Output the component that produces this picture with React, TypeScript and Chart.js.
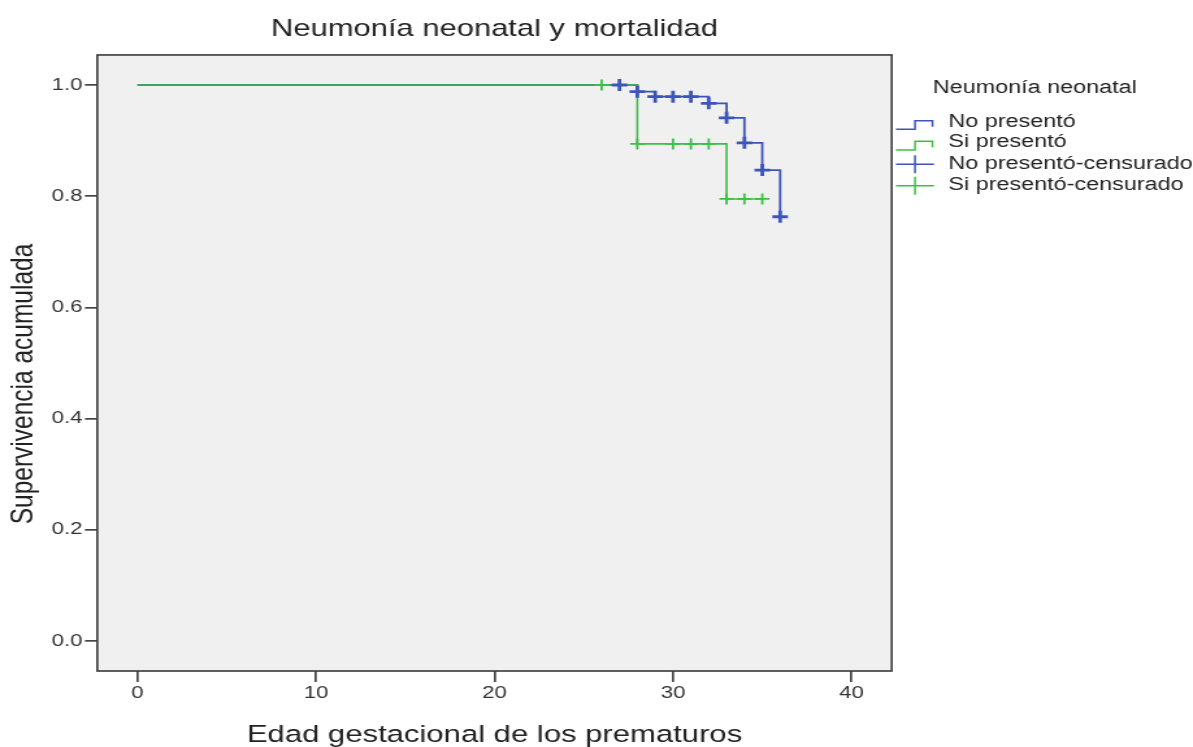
import React, { useEffect, useRef } from 'react';
import { Chart, registerables } from 'chart.js';

Chart.register(...registerables);

// ---------- texts ----------
const chartTitle = 'Neumonía neonatal y mortalidad';
const xAxisTitle = 'Edad gestacional de los prematuros';
const yAxisTitle = 'Supervivencia acumulada';
const legendTitle = 'Neumonía neonatal';
const seriesNames = ['No presentó', 'Si presentó', 'No presentó-censurado', 'Si presentó-censurado'];

// ---------- ticks ----------
const xTicks = [0, 10, 20, 30, 40];
const yTicks = [0, 0.2, 0.4, 0.6, 0.8, 1.0];

// ---------- data (Kaplan-Meier steps) ----------
const noStepTimes = [0, 28, 29, 32, 33, 34, 35, 36];
const noStepSurv = [1.0, 0.988, 0.979, 0.967, 0.941, 0.896, 0.847, 0.763];
const siStepTimes = [0, 28, 33, 35];
const siStepSurv = [1.0, 0.894, 0.795, 0.795];

// censored marks
const noCensTimes = [27, 28, 29, 30, 31, 32, 33, 34, 35, 36];
const noCensSurv = [1.0, 0.988, 0.979, 0.979, 0.979, 0.967, 0.941, 0.896, 0.847, 0.763];
const siCensTimes = [26, 28, 30, 31, 32, 33, 34, 35];
const siCensSurv = [1.0, 0.894, 0.894, 0.894, 0.894, 0.795, 0.795, 0.795];

const BLUE = '#3d55b8';
const GREEN = '#3cbf48';
const FONT = '"Liberation Sans", Arial, sans-serif';

const CW = 918; // internal canvas width (stretched to 1193 px)
const CH = 747;
const S = 1193 / CW;

const toPts = (xs: number[], ys: number[]) => xs.map((x, i) => ({ x, y: ys[i] }));

const decor = {
  id: 'decor',
  beforeDraw(chart: any) {
    const { ctx, chartArea: a } = chart;
    ctx.save();
    ctx.fillStyle = '#f0f0f0';
    ctx.fillRect(a.left, a.top, a.right - a.left, a.bottom - a.top);
    ctx.restore();
  },
  afterDraw(chart: any) {
    const { ctx, chartArea: a } = chart;
    ctx.save();
    // frame
    ctx.strokeStyle = '#444';
    ctx.lineWidth = 1.7;
    ctx.strokeRect(a.left, a.top, a.right - a.left, a.bottom - a.top);

    // y axis title
    ctx.save();
    ctx.translate(23.3 / S, 384);
    ctx.rotate(-Math.PI / 2);
    ctx.fillStyle = '#222';
    ctx.font = `24.5px ${FONT}`;
    ctx.textAlign = 'center';
    ctx.textBaseline = 'middle';
    ctx.fillText(yAxisTitle, 0, 0);
    ctx.restore();

    // legend
    const x0 = 896 / S, xm = 915 / S, x1 = 932.5 / S, x2 = 934 / S;
    const tx = 948.3 / S;
    ctx.fillStyle = '#222';
    ctx.font = `18px ${FONT}`;
    ctx.textAlign = 'left';
    ctx.textBaseline = 'middle';
    ctx.fillText(legendTitle, 932.7 / S, 88.3);

    const stepIcon = (low: number, high: number, color: string) => {
      ctx.strokeStyle = color;
      ctx.lineWidth = 1.5;
      ctx.beginPath();
      ctx.moveTo(x0, low);
      ctx.lineTo(xm, low);
      ctx.lineTo(xm, high);
      ctx.lineTo(x1, high);
      ctx.lineTo(x1, high + 6);
      ctx.stroke();
    };
    const crossIcon = (y: number, color: string) => {
      ctx.strokeStyle = color;
      ctx.lineWidth = 1.5;
      ctx.beginPath();
      ctx.moveTo(x0, y);
      ctx.lineTo(x2, y);
      ctx.moveTo(xm, y - 9);
      ctx.lineTo(xm, y + 9);
      ctx.stroke();
    };
    stepIcon(129.3, 120.7, BLUE);
    stepIcon(150, 141.3, GREEN);
    crossIcon(164.3, BLUE);
    crossIcon(185.7, GREEN);
    ctx.fillStyle = '#222';
    ctx.fillText(seriesNames[0], tx, 121.7);
    ctx.fillText(seriesNames[1], tx, 141.7);
    ctx.fillText(seriesNames[2], tx, 164);
    ctx.fillText(seriesNames[3], tx, 185);
    ctx.restore();
  },
};

export default function App() {
  const ref = useRef<HTMLCanvasElement | null>(null);

  useEffect(() => {
    if (!ref.current) return;
    const chart = new Chart(ref.current, {
      type: 'line',
      data: {
        datasets: [
          {
            type: 'scatter',
            label: seriesNames[2],
            data: toPts(noCensTimes, noCensSurv),
            showLine: false,
            pointStyle: 'cross',
            pointRadius: 6,
            pointBorderWidth: 2.8,
            borderColor: BLUE,
            backgroundColor: BLUE,
          },
          {
            type: 'scatter',
            label: seriesNames[3],
            data: toPts(siCensTimes, siCensSurv),
            showLine: false,
            pointStyle: 'cross',
            pointRadius: 5.5,
            pointBorderWidth: 1.8,
            borderColor: GREEN,
            backgroundColor: GREEN,
          },
          {
            label: seriesNames[1],
            data: toPts(siStepTimes, siStepSurv),
            stepped: 'before',
            borderColor: GREEN,
            borderWidth: 1.6,
            pointRadius: 0,
            fill: false,
          },
          {
            label: seriesNames[0],
            data: toPts(noStepTimes, noStepSurv),
            stepped: 'before',
            borderColor: BLUE,
            borderWidth: 1.8,
            pointRadius: 0,
            fill: false,
          },
        ],
      },
      options: {
        responsive: false,
        maintainAspectRatio: false,
        animation: false,
        events: [],
        layout: { padding: { top: 0, right: CW - 891.7 / S, bottom: 0, left: 0 } },
        plugins: {
          legend: { display: false },
          tooltip: { enabled: false },
          title: {
            display: true,
            text: chartTitle,
            fullSize: false,
            color: '#222',
            font: { family: FONT, size: 23.8, weight: 'normal', lineHeight: 1.2 },
            padding: { top: 15, bottom: 11.4 },
          },
        },
        scales: {
          x: {
            type: 'linear',
            min: -2.25,
            max: 42.25,
            afterBuildTicks: (s: any) => {
              s.ticks = xTicks.map((v) => ({ value: v }));
            },
            afterFit: (s: any) => {
              s.height = 76;
            },
            border: { display: false },
            grid: {
              display: true,
              drawOnChartArea: false,
              drawTicks: true,
              tickLength: 11,
              color: '#444',
              lineWidth: 1.7,
            },
            ticks: {
              padding: 1,
              color: '#333',
              font: { family: FONT, size: 17 },
              maxRotation: 0,
              autoSkip: false,
              callback: (v: any) => String(v),
            },
            title: {
              display: true,
              text: xAxisTitle,
              color: '#222',
              font: { family: FONT, size: 23.9, lineHeight: 1 },
              padding: { top: 0, bottom: 0 },
            },
          },
          y: {
            type: 'linear',
            min: -0.054,
            max: 1.054,
            afterBuildTicks: (s: any) => {
              s.ticks = yTicks.map((v) => ({ value: v }));
            },
            afterFit: (s: any) => {
              s.width = 97.3 / S;
            },
            border: { display: false },
            grid: {
              display: true,
              drawOnChartArea: false,
              drawTicks: true,
              tickLength: 9.5,
              color: '#444',
              lineWidth: 1.7,
            },
            ticks: {
              padding: 2,
              color: '#333',
              font: { family: FONT, size: 17 },
              autoSkip: false,
              callback: (v: any) => Number(v).toFixed(1),
            },
            title: { display: false },
          },
        },
      },
      plugins: [decor],
    } as any);
    return () => chart.destroy();
  }, []);

  return (
    <div style={{ position: 'fixed', left: 0, top: 0, width: 1193, height: 747, background: '#fff' }}>
      <canvas
        ref={ref}
        width={CW}
        height={CH}
        style={{ width: '1193px', height: '747px', display: 'block' }}
      />
    </div>
  );
}
